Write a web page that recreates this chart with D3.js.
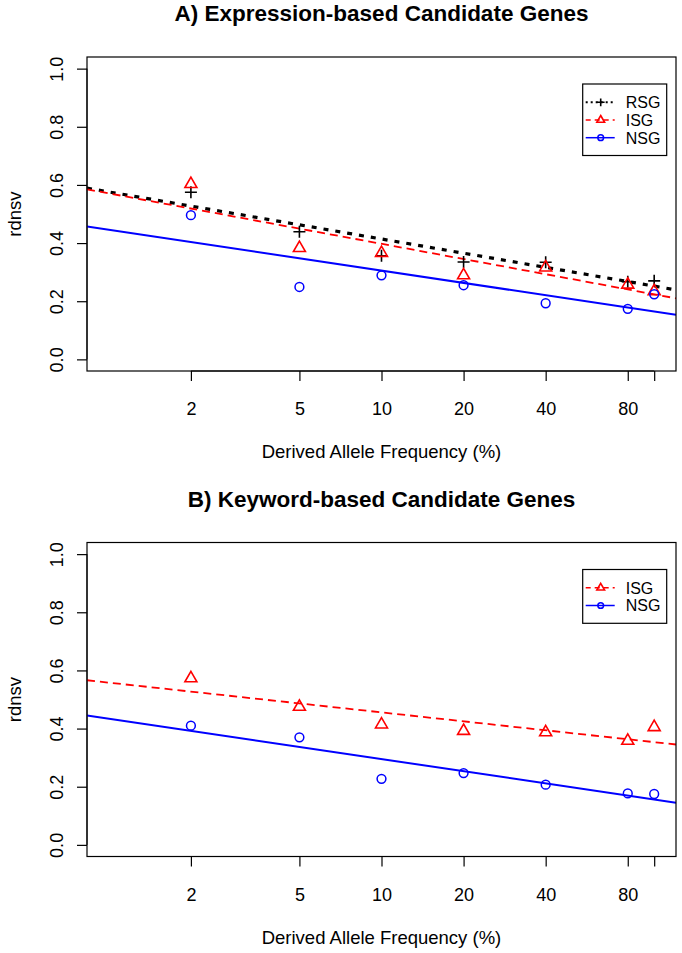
<!DOCTYPE html>
<html>
<head>
<meta charset="utf-8">
<script src="https://cdn.jsdelivr.net/npm/d3@7"></script>
<style>
  html, body { margin: 0; padding: 0; background: #fff; }
  svg { display: block; }
  text { font-family: "Liberation Sans", Arial, Helvetica, sans-serif; fill: #000; }
</style>
</head>
<body>
<svg id="chart" width="682" height="953"></svg>
<script>
// ---------- data ----------
const xValues = [2, 5, 10, 20, 40, 80, 100];
const xTickValues = [2, 5, 10, 20, 40, 80, 100];
const xTickLabels = ["2", "5", "10", "20", "40", "80", ""];
const yTickValues = [0, 0.2, 0.4, 0.6, 0.8, 1.0];
const yTickLabels = ["0.0", "0.2", "0.4", "0.6", "0.8", "1.0"];

const titleA = "A) Expression-based Candidate Genes";
const titleB = "B) Keyword-based Candidate Genes";
const xTitle = "Derived Allele Frequency (%)";
const yTitle = "rdnsv";

// Panel A values
const aRSG = [0.575, 0.439, 0.356, 0.335, 0.334, 0.267, 0.270];
const aISG = [0.603, 0.383, 0.366, 0.289, 0.316, 0.257, 0.234];
const aNSG = [0.496, 0.249, 0.289, 0.255, 0.193, 0.174, 0.224];
// fitted lines (y = intercept + slope * log10(x))
const aFitIntercept = [0.576, 0.571, 0.446];
const aFitSlope = [-0.162, -0.1736, -0.1407];

// Panel B values
const bISG = [0.573, 0.475, 0.414, 0.392, 0.387, 0.358, 0.405];
const bNSG = [0.410, 0.370, 0.227, 0.247, 0.207, 0.177, 0.175];
const bFitIntercept = [0.558, 0.434];
const bFitSlope = [-0.1023, -0.1389];

const seriesNamesA = ["RSG", "ISG", "NSG"];
const seriesNamesB = ["ISG", "NSG"];

// ---------- styles ----------
const styles = {
  RSG: { color: "#000000", width: 3.2, dash: "5 7", legendWidth: 2, legendDash: "2 3", shape: "plus" },
  ISG: { color: "#ff0000", width: 1.8, dash: "8 5", legendWidth: 1.5, legendDash: "5 4", shape: "triangle" },
  NSG: { color: "#0000ff", width: 2, dash: null, legendWidth: 1.5, legendDash: null, shape: "circle" }
};

const svg = d3.select("#chart");
const left = 87, right = 676, panelH = 314;
const logMin = -0.08, logMax = 2.08;
const x = d3.scaleLog().domain([Math.pow(10, logMin), Math.pow(10, logMax)]).range([left, right]);
const fontTick = 18, fontLab = 18.5, fontTitle = 22.5, fontLegend = 16;

function drawMarker(g, shape, cx, cy, color, size) {
  if (shape === "circle") {
    g.append("circle").attr("cx", cx).attr("cy", cy).attr("r", 4.4 * size)
      .attr("fill", "none").attr("stroke", color).attr("stroke-width", 1.5);
  } else if (shape === "triangle") {
    const R = 4.45 * size;
    const r = 1.5551 * R, xc = 1.3468 * R, yc = 0.7776 * R;
    g.append("path")
      .attr("d", `M${cx},${cy - r}L${cx + xc},${cy + yc}L${cx - xc},${cy + yc}Z`)
      .attr("fill", "none").attr("stroke", color).attr("stroke-width", 1.6);
  } else if (shape === "plus") {
    const h = 6 * size;
    g.append("path")
      .attr("d", `M${cx - h},${cy}H${cx + h}M${cx},${cy - h}V${cy + h}`)
      .attr("fill", "none").attr("stroke", color).attr("stroke-width", 1.6);
  }
}

function drawPanel(top, title, names, valueArrays, intercepts, slopes) {
  const bottom = top + panelH;
  const y = d3.scaleLinear().domain([-0.04, 1.04]).range([bottom, top]);
  const g = svg.append("g");

  // title
  g.append("text").attr("x", (left + right) / 2).attr("y", top - 36)
    .attr("text-anchor", "middle").attr("font-weight", "bold").attr("font-size", fontTitle)
    .text(title);

  // x axis
  const xAxis = d3.axisBottom(x).tickValues(xTickValues)
    .tickFormat((d, i) => xTickLabels[i]).tickSize(10).tickSizeOuter(0);
  const gx = g.append("g").attr("transform", `translate(0,${bottom})`).call(xAxis);
  gx.select(".domain").attr("d", `M${x(xTickValues[0])},0H${x(xTickValues[xTickValues.length - 1])}`);
  gx.selectAll("line").attr("stroke", "#000").attr("stroke-width", 1.2);
  gx.selectAll("text").attr("y", 44).attr("dy", null).attr("font-size", fontTick)
    .attr("font-family", "Liberation Sans, Arial, sans-serif");

  // y axis
  const yAxis = d3.axisLeft(y).tickValues(yTickValues)
    .tickFormat((d, i) => yTickLabels[i]).tickSize(10).tickSizeOuter(0);
  const gy = g.append("g").attr("transform", `translate(${left},0)`).call(yAxis);
  gy.select(".domain").attr("d", `M0,${y(0)}V${y(1)}`);
  gy.selectAll("line").attr("stroke", "#000").attr("stroke-width", 1.2);
  gy.selectAll("text").attr("transform", "rotate(-90)").attr("x", 0).attr("y", -24.5)
    .attr("dy", null).attr("text-anchor", "middle").attr("font-size", fontTick)
    .attr("font-family", "Liberation Sans, Arial, sans-serif");

  // axis titles
  g.append("text").attr("x", (left + right) / 2).attr("y", bottom + 87)
    .attr("text-anchor", "middle").attr("font-size", fontLab).text(xTitle);
  g.append("text").attr("transform", `translate(21,${(top + bottom) / 2}) rotate(-90)`)
    .attr("text-anchor", "middle").attr("font-size", fontLab).text(yTitle);

  // clip
  const clipId = "clip" + Math.round(top);
  svg.append("clipPath").attr("id", clipId).append("rect")
    .attr("x", left).attr("y", top).attr("width", right - left).attr("height", panelH);
  const plot = g.append("g").attr("clip-path", `url(#${clipId})`);

  // fitted lines
  names.forEach((name, i) => {
    const st = styles[name];
    const xs = [Math.pow(10, logMin), Math.pow(10, logMax)];
    const line = d3.line().x(d => x(d)).y(d => y(intercepts[i] + slopes[i] * Math.log10(d)));
    plot.append("path").datum(xs).attr("d", line)
      .attr("fill", "none").attr("stroke", st.color).attr("stroke-width", st.width)
      .attr("stroke-dasharray", st.dash);
  });

  // points
  names.forEach((name, i) => {
    const st = styles[name];
    valueArrays[i].forEach((v, j) => drawMarker(g, st.shape, x(xValues[j]), y(v), st.color, 1));
  });

  // box
  g.append("rect").attr("x", left).attr("y", top).attr("width", right - left).attr("height", panelH)
    .attr("fill", "none").attr("stroke", "#000").attr("stroke-width", 1.2);

  // legend
  const lx = 582.7, lw = 84, ly = top + 27, step = 17.7;
  const lh = 18.3 + step * (names.length - 1) + 17.8;
  const lg = g.append("g");
  lg.append("rect").attr("x", lx).attr("y", ly).attr("width", lw).attr("height", lh)
    .attr("fill", "#fff").attr("stroke", "#000").attr("stroke-width", 1.2);
  names.forEach((name, i) => {
    const st = styles[name];
    const cy = ly + 18.3 + i * step;
    lg.append("line").attr("x1", lx + 3).attr("x2", lx + 32).attr("y1", cy).attr("y2", cy)
      .attr("stroke", st.color).attr("stroke-width", st.legendWidth)
      .attr("stroke-dasharray", st.legendDash);
    drawMarker(lg, st.shape, lx + 18, cy, st.color, 0.65);
    lg.append("text").attr("x", lx + 43).attr("y", cy + 5.8).attr("font-size", fontLegend).text(name);
  });
}

drawPanel(57, titleA, seriesNamesA, [aRSG, aISG, aNSG], aFitIntercept, aFitSlope);
drawPanel(542.5, titleB, seriesNamesB, [bISG, bNSG], bFitIntercept, bFitSlope);
</script>
</body>
</html>
